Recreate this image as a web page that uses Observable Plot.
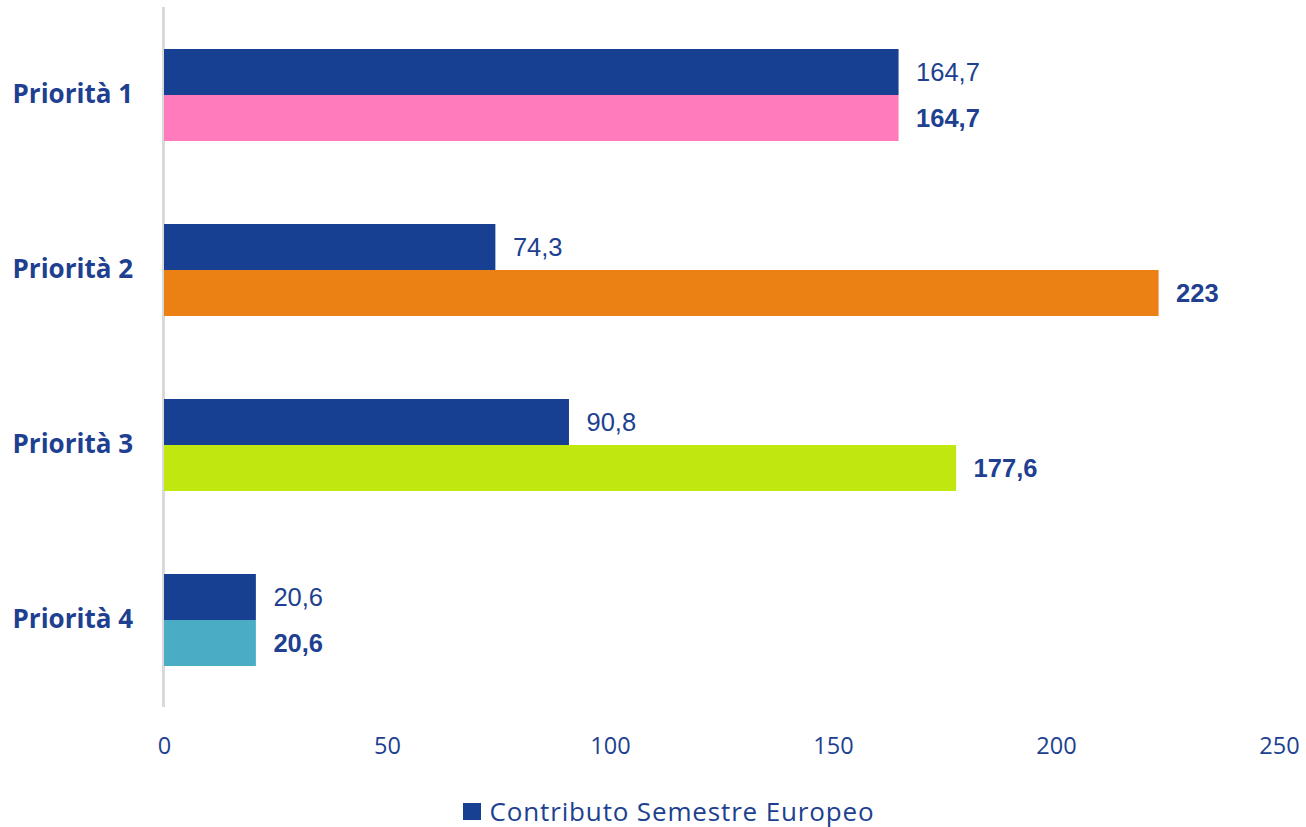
<!DOCTYPE html>
<html>
<head>
<meta charset="utf-8">
<script src="https://cdn.jsdelivr.net/npm/d3@7"></script>
<script src="https://cdn.jsdelivr.net/npm/@observablehq/plot@0.6"></script>
<style>
  html, body { margin: 0; padding: 0; background: #ffffff; }
  #chart { width: 1306px; }
  .legend { display: flex; justify-content: center; align-items: center; margin-top: 27px; height: 34px;
    padding-left: 31px; box-sizing: border-box;
    font-family: "Open Sans", sans-serif; font-size: 26px; letter-spacing: 0.85px; color: #203f90; }
  .legend .sw { width: 18px; height: 17px; background: #173f92; margin-right: 9px; }
</style>
</head>
<body>
<div id="chart"></div>
<script>
const priorities = ["Priorità 1", "Priorità 2", "Priorità 3", "Priorità 4"];
const contributo = [164.7, 74.3, 90.8, 20.6];
const totale = [164.7, 223, 177.6, 20.6];
const series = ["Contributo Semestre Europeo", "Totale priorità"];
const xTicks = [0, 50, 100, 150, 200, 250];

const blue = "#173f92";
const priorityColors = ["#ff7bbc", "#eb8014", "#c0e810", "#4badc5"];
const textColor = "#203f90";

const fmt = v => String(v).replace(".", ",");

const rows = [];
priorities.forEach((p, i) => {
  rows.push({prio: p, serie: series[0], value: contributo[i], color: blue});
  rows.push({prio: p, serie: series[1], value: totale[i], color: priorityColors[i]});
});

const chart = Plot.plot({
  width: 1306,
  height: 767,
  marginTop: 7,
  marginBottom: 60,
  marginLeft: 164,
  marginRight: 27,
  style: {background: "#ffffff", color: textColor},
  x: {domain: [0, 250], label: null},
  y: {domain: series, paddingInner: 0, paddingOuter: 0.9, axis: null},
  fy: {domain: priorities, padding: 0, label: null},
  marks: [
    Plot.ruleX([0], {stroke: "#d9d9d9", strokeWidth: 3, dx: -1}),
    Plot.barX(rows, {fy: "prio", y: "serie", x: "value", fill: "color"}),
    Plot.text(rows.filter(d => d.serie === series[0]), {
      fy: "prio", y: "serie", x: "value", text: d => fmt(d.value),
      textAnchor: "start", dx: 17, fill: textColor,
      fontFamily: "Liberation Sans, Arial, sans-serif", fontSize: 25.5
    }),
    Plot.text(rows.filter(d => d.serie === series[1]), {
      fy: "prio", y: "serie", x: "value", text: d => fmt(d.value),
      textAnchor: "start", dx: 17, fill: textColor, fontWeight: "bold",
      fontFamily: "Liberation Sans, Arial, sans-serif", fontSize: 25.5
    }),
    Plot.axisX({ticks: xTicks, tickSize: 0, tickPadding: 30, label: null,
      fontFamily: "Open Sans, sans-serif", fontSize: 23.5, fill: textColor}),
    Plot.axisFy({anchor: "left", tickSize: 0, tickPadding: 0, textAnchor: "start", dx: -152,
      label: null, fontFamily: "Open Sans, sans-serif", fontSize: 26, fontWeight: "bold", fill: textColor})
  ]
});

document.getElementById("chart").appendChild(chart);
const legend = document.createElement("div");
legend.className = "legend";
legend.innerHTML = '<div class="sw"></div><span>' + series[0] + '</span>';
document.getElementById("chart").appendChild(legend);
</script>
</body>
</html>
